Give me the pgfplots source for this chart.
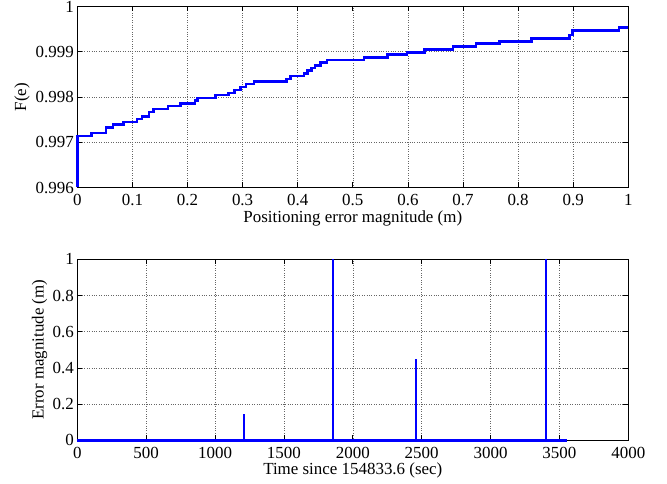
\documentclass[border=0pt]{standalone}
\usepackage{fontspec}
\setmainfont{Liberation Serif}
\usepackage{pgfplots}
\pgfplotsset{compat=1.18}
\pgfplotsset{
  mystyle/.style={
    scale only axis, width=551bp, height=181bp, anchor=south west,
    tick align=inside, major tick length=5bp,
    grid=major, major grid style={dotted, black!60, line width=0.6bp},
    axis line style={line width=0.8bp},
    every tick/.style={black, line width=0.7bp},
    font=\fontsize{17}{20}\selectfont,
    /pgf/number format/assume math mode=true,
    scaled ticks=false, /pgf/number format/1000 sep={},
    xticklabel style={anchor=base, yshift=-18.5bp},
    clip=false,
  }
}
\definecolor{mblue}{RGB}{0,0,255}
\begin{document}
\begin{tikzpicture}
\useasboundingbox (0,0) rectangle (667bp,484bp);
\begin{axis}[mystyle, at={(77.3bp,296.5bp)},
  xmin=0, xmax=1, ymin=0.996, ymax=1,
  xtick={0,0.1,...,1.0},
  xticklabels={0,0.1,0.2,0.3,0.4,0.5,0.6,0.7,0.8,0.9,1},
  ytick={0.996,0.997,0.998,0.999,1},
  yticklabels={0.996,0.997,0.998,0.999,1},
  xlabel={Positioning error magnitude (m)},
  ylabel={F(e)},
  xlabel style={at={(axis description cs:0.5,-0.192)}, anchor=base},
  ylabel style={at={(axis description cs:-0.093,0.5)}, anchor=base},
]
\addplot[const plot, color=mblue, line width=2.5bp] coordinates {
(0,0.996) (0,0.99714) (0.026,0.99720) (0.052,0.99733) (0.065,0.99739)
(0.084,0.99745) (0.108,0.99751) (0.117,0.99757) (0.130,0.99767) (0.138,0.99774)
(0.165,0.99780) (0.187,0.99786) (0.214,0.99792) (0.218,0.99798) (0.251,0.99804)
(0.274,0.99809) (0.285,0.99816) (0.296,0.99822) (0.306,0.99829) (0.321,0.99834)
(0.380,0.99840) (0.387,0.99846) (0.411,0.99852) (0.418,0.99858) (0.425,0.99864)
(0.431,0.99870) (0.441,0.99876) (0.453,0.99882) (0.520,0.99887) (0.563,0.99894)
(0.598,0.99898) (0.630,0.99905) (0.682,0.99912) (0.724,0.99918) (0.766,0.99923)
(0.824,0.99929) (0.893,0.99937) (0.899,0.99947) (0.983,0.99954) (1.0,0.99954)
};
\end{axis}
\begin{axis}[mystyle, at={(77.3bp,43.7bp)},
  xmin=0, xmax=4000, ymin=0, ymax=1,
  xtick={0,500,...,4000},
  ytick={0,0.2,0.4,0.6,0.8,1},
  yticklabels={0,0.2,0.4,0.6,0.8,1},
  xlabel={Time since 154833.6 (sec)},
  ylabel={Error magnitude (m)},
  xlabel style={at={(axis description cs:0.5,-0.19)}, anchor=base},
  ylabel style={at={(axis description cs:-0.0613,0.5)}, anchor=base},
]
\addplot[color=mblue, line width=3.2bp] coordinates {(0,0) (3553,0)};
\addplot[ycomb, color=mblue, line width=2.5bp] coordinates {
(1210,0.143) (1858,1) (2459,0.447) (3403,1)
};
\end{axis}
\end{tikzpicture}
\end{document}
